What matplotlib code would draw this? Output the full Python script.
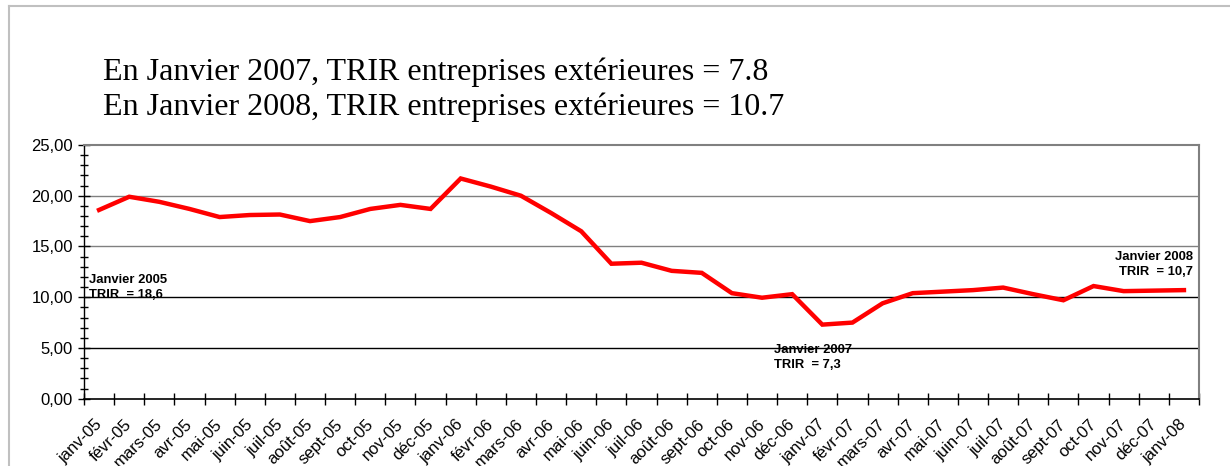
import numpy as np
import matplotlib.pyplot as plt
import matplotlib.transforms as mtransforms
from matplotlib.lines import Line2D

# data
mois = ["janv-05", "févr-05", "mars-05", "avr-05", "mai-05", "juin-05", "juil-05", "août-05",
        "sept-05", "oct-05", "nov-05", "déc-05",
        "janv-06", "févr-06", "mars-06", "avr-06", "mai-06", "juin-06", "juil-06", "août-06",
        "sept-06", "oct-06", "nov-06", "déc-06",
        "janv-07", "févr-07", "mars-07", "avr-07", "mai-07", "juin-07", "juil-07", "août-07",
        "sept-07", "oct-07", "nov-07", "déc-07", "janv-08"]
trir = [18.6, 19.9, 19.4, 18.7, 17.9, 18.1, 18.15, 17.5, 17.9, 18.7, 19.1, 18.7,
        21.7, 20.9, 20.0, 18.3, 16.5, 13.3, 13.4, 12.6, 12.4, 10.4, 9.95, 10.3,
        7.3, 7.5, 9.4, 10.4, 10.55, 10.7, 10.95, 10.3, 9.7, 11.1, 10.6, 10.65, 10.7]
yticks = [0, 5, 10, 15, 20, 25]

fig = plt.figure(figsize=(12.3, 4.66), dpi=100)
ax = fig.add_axes([84/1230, 67.3/466, (1199-84)/1230, (398.7-145)/466])

x = np.arange(len(mois))
ax.plot(x, trir, color="#ff0000", lw=3.2, solid_joinstyle="miter", zorder=5)

ax.set_xlim(-0.5, len(mois) - 0.5)
ax.set_ylim(0, 25)

# grid lines (top ones look gray, lower ones black in the original)
for v in yticks[1:-1]:
    ax.axhline(v, color="black" if v <= 10 else "#808080", lw=1.0, zorder=1)

for s in ["top", "right"]:
    ax.spines[s].set_color("#808080")
    ax.spines[s].set_linewidth(1.5)
ax.spines["left"].set_linewidth(1.0)
ax.spines["bottom"].set_linewidth(1.2)

ax.set_yticks(yticks)
ax.set_yticklabels([f"{v:.2f}".replace(".", ",") for v in yticks], fontsize=12,
                   family="Liberation Sans")
ax.set_yticks(np.arange(0, 26, 1), minor=True)
ax.tick_params(axis="y", which="major", direction="inout", length=8, width=1, pad=4)
ax.tick_params(axis="y", which="minor", direction="inout", length=6, width=1)

ax.set_xticks(x)
ax.set_xticklabels(mois, rotation=45, ha="right", va="top", rotation_mode="anchor",
                   fontsize=12, family="Liberation Sans")
ax.set_xticks(np.arange(-0.5, len(mois), 1), minor=True)
ax.tick_params(axis="x", which="major", length=0, pad=13)
ax.tick_params(axis="x", which="minor", direction="inout", length=8, width=1)
shift = mtransforms.ScaledTranslation(-5/100, 0, fig.dpi_scale_trans)
for lab in ax.get_xticklabels():
    lab.set_transform(lab.get_transform() + shift)

# annotations
ann = dict(fontsize=9.4, fontweight="bold", family="Liberation Sans", linespacing=1.35, zorder=6)
ax.text(-0.35, 10.95, "Janvier 2005\nTRIR  = 18,6", ha="left", va="center", **ann)
ax.text(22.4, 4.1, "Janvier 2007\nTRIR  = 7,3", ha="left", va="center", **ann)
ax.text(36.3, 13.2, "Janvier 2008\nTRIR  = 10,7", ha="right", va="center", **ann)

# title
fig.text(103/1230, 1 - 72/466, "En Janvier 2007, TRIR entreprises extérieures = 7.8",
         fontsize=23, family="Liberation Serif", va="center", ha="left")
fig.text(103/1230, 1 - 107/466, "En Janvier 2008, TRIR entreprises extérieures = 10.7",
         fontsize=23, family="Liberation Serif", va="center", ha="left")

# outer frame
fig.add_artist(Line2D([9/1230, 1], [1 - 6/466, 1 - 6/466], color="#c0c0c0", lw=1.5,
                      transform=fig.transFigure))
fig.add_artist(Line2D([9/1230, 9/1230], [0, 1 - 6/466], color="#c0c0c0", lw=1.5,
                      transform=fig.transFigure))

fig.savefig("out.png", dpi=100)
